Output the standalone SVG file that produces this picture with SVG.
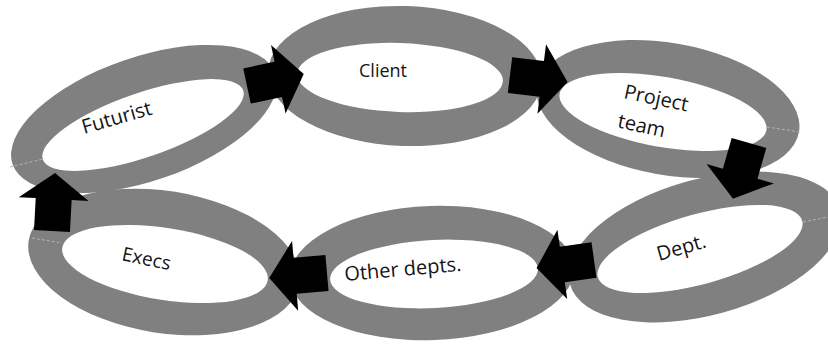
<svg xmlns="http://www.w3.org/2000/svg" width="828" height="346" viewBox="0 0 828 346">
<style>
.ring{fill:#808080}
.hole{fill:#ffffff}
.seam{stroke:#b4b4b4;stroke-width:1;stroke-dasharray:3 2;fill:none}
.lbl{font-family:"Open Sans","Noto Sans",sans-serif;font-size:20px;fill:#141414}
.arr{fill:#000000}
</style>
<defs>
<polygon id="blk" points="0,-18 32,-18 32,-35 58,0 32,35 32,18 0,18"/>
</defs>
<rect width="828" height="346" fill="#ffffff"/>
<g id="futurist">
<ellipse class="ring" cx="0" cy="0" rx="139" ry="62" transform="translate(144,119) rotate(-19)"/>
<ellipse class="hole" cx="0" cy="0" rx="106" ry="32" transform="translate(143,125) rotate(-19)"/>
<line class="seam" x1="10" y1="167" x2="43" y2="159"/>
<text class="lbl" transform="translate(84,134) rotate(-16)">Futurist</text>
</g>
<g id="client">
<ellipse class="ring" cx="405" cy="76" rx="137" ry="70" transform="rotate(2 405 76)"/>
<ellipse class="hole" cx="400" cy="77.5" rx="103" ry="34.5" transform="rotate(2 400 77.5)"/>
<text class="lbl" x="383" y="77" text-anchor="middle" style="font-size:18px">Client</text>
</g>
<g id="project-team">
<ellipse class="ring" cx="0" cy="0" rx="133" ry="66" transform="translate(668,109) rotate(10)"/>
<ellipse class="hole" cx="0" cy="0" rx="105" ry="35" transform="translate(663,112) rotate(10)"/>
<line class="seam" x1="767" y1="127" x2="800" y2="132"/>
<g transform="translate(623,98) rotate(12)">
<text class="lbl" x="0" y="0">Project</text>
<text class="lbl" x="0" y="30">team</text>
</g>
</g>
<g id="dept">
<ellipse class="ring" cx="0" cy="0" rx="140" ry="68" transform="translate(705,247) rotate(-15.5)"/>
<ellipse class="hole" cx="0" cy="0" rx="106" ry="35" transform="translate(700,249) rotate(-15.5)"/>
<line class="seam" x1="803" y1="222" x2="828" y2="217"/>
<text class="lbl" transform="translate(659,261) rotate(-16)">Dept.</text>
</g>
<g id="other-depts">
<ellipse class="ring" cx="0" cy="0" rx="142" ry="67" transform="translate(432,273) rotate(-2)"/>
<ellipse class="hole" cx="0" cy="0" rx="104" ry="34" transform="translate(434,274) rotate(-3)"/>
<text class="lbl" transform="translate(345,281) rotate(-5)">Other depts.</text>
</g>
<g id="execs">
<ellipse class="ring" cx="0" cy="0" rx="137" ry="71" transform="translate(164,262) rotate(9)"/>
<ellipse class="hole" cx="0" cy="0" rx="104" ry="36" transform="translate(165,264) rotate(9)"/>
<line class="seam" x1="32" y1="238" x2="62" y2="243"/>
<text class="lbl" transform="translate(121,260) rotate(12)" style="font-size:19px">Execs</text>
</g>
<g id="connectors">
<use href="#blk" class="arr" transform="translate(247,86) rotate(-12)"/>
<use href="#blk" class="arr" transform="translate(510,75) rotate(7)"/>
<use href="#blk" class="arr" transform="translate(749,143) rotate(106)"/>
<use href="#blk" class="arr" transform="translate(594,260) rotate(172)"/>
<use href="#blk" class="arr" transform="translate(327,273) rotate(175)"/>
<use href="#blk" class="arr" transform="translate(52,231) rotate(-87)"/>
</g>
</svg>
